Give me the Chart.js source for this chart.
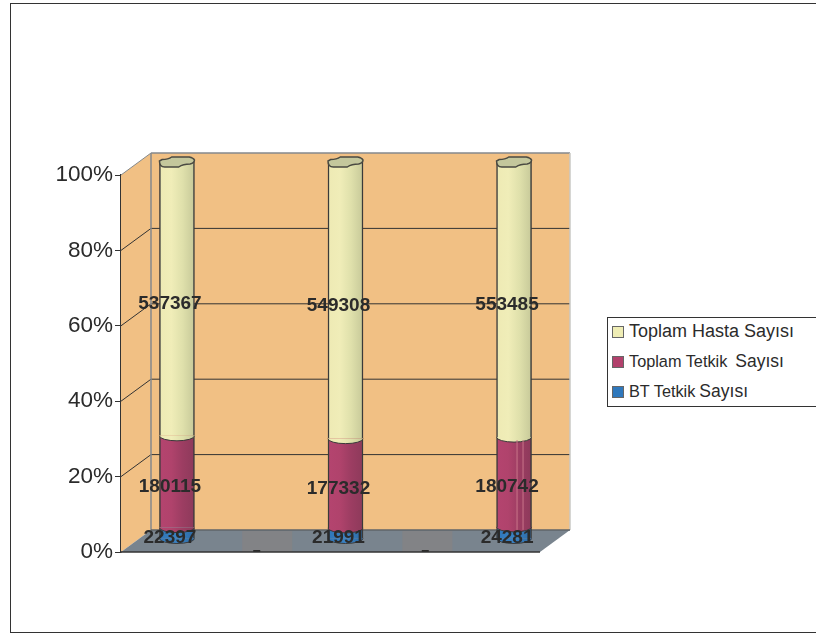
<!DOCTYPE html>
<html>
<head>
<meta charset="utf-8">
<style>
    html, body { margin: 0; padding: 0; background: #fff; }
    #wrap { position: relative; width: 816px; height: 633px; overflow: hidden; font-family: "Liberation Sans", sans-serif; }
    #frame { position: absolute; left: 10px; top: 3px; width: 806px; height: 628px; border: 1px solid #333; border-right: none; }
    #myChart { position: absolute; left: 0; top: 0; }
    #legend { position: absolute; left: 607px; top: 317px; width: 209px; height: 90px; box-sizing: border-box; border: 1px solid #333; border-right: none; background: #fff; color: #2b2b2b; }
    .legendRow { position: absolute; left: 4px; display: flex; align-items: center; white-space: nowrap; }
    .legendSwatch { width: 10px; height: 10px; border: 1px solid #666; margin-right: 5px; }
</style>
</head>
<body>
<div id="wrap">
    <div id="frame"></div>
    <canvas id="myChart" width="816" height="633"></canvas>
    <div id="legend"></div>
</div>
<script src="https://cdn.jsdelivr.net/npm/chart.js@4"></script>
<script>
const columnPositions = [0, 1, 2]
const btTetkik = [22397, 21991, 24281]
const toplamTetkik = [180115, 177332, 180742]
const toplamHasta = [537367, 549308, 553485]
const percentTicks = [0, 20, 40, 60, 80, 100]
const seriesNames = ['BT Tetkik Sayısı', 'Toplam Tetkik Sayısı', 'Toplam Hasta Sayısı']
const floorPatches = [0.5, 1.45]
const floorDashes = [0.5, 1.5]

// 3D box depth, and how far the columns sit inside it
const DEPTH_X = 30
const DEPTH_Y = -22
const COLUMN_X = 15
const COLUMN_Y = -13
const CAP_RY = 5

const share = (series, i) => {
    const total = btTetkik[i] + toplamTetkik[i] + toplamHasta[i]
    return series[i] / total * 100
}

const makeDataset = (name, series, shades, swatch) => ({
    label: name,
    swatch: swatch,
    values: series,
    data: columnPositions.map((x, i) => ({ x: x, y: share(series, i) })),
    barThickness: 35,
    borderColor: '#3a3a3a',
    borderWidth: { left: 1.5, right: 1.5, top: 0, bottom: 0 },
    borderSkipped: false,
    backgroundColor: (context) => {
        if (!context.raw) return shades[0]
        const chart = context.chart
        const center = chart.scales.x.getPixelForValue(context.raw.x)
        if (!Number.isFinite(center)) return shades[0]
        const gradient = chart.ctx.createLinearGradient(center - 17, 0, center + 17, 0)
        shades.forEach((shade, n) => gradient.addColorStop(n / (shades.length - 1), shade))
        return gradient
    },
})

// walls and floor behind the columns
const drawBox = (chart) => {
    const { ctx, chartArea, scales } = chart
    const { left, right, top, bottom } = chartArea
    const poly = (points, fill) => {
        ctx.beginPath()
        points.forEach((p, n) => n ? ctx.lineTo(p[0], p[1]) : ctx.moveTo(p[0], p[1]))
        ctx.closePath()
        ctx.fillStyle = fill
        ctx.fill()
    }
    const line = (x1, y1, x2, y2, color, width) => {
        ctx.beginPath()
        ctx.moveTo(x1, y1)
        ctx.lineTo(x2, y2)
        ctx.strokeStyle = color
        ctx.lineWidth = width
        ctx.stroke()
    }
    ctx.save()
    poly([[left + DEPTH_X, top + DEPTH_Y], [right + DEPTH_X, top + DEPTH_Y], [right + DEPTH_X, bottom + DEPTH_Y], [left + DEPTH_X, bottom + DEPTH_Y]], '#f1c084')
    poly([[left, top], [left + DEPTH_X, top + DEPTH_Y], [left + DEPTH_X, bottom + DEPTH_Y], [left, bottom]], '#f1c084')
    poly([[left, bottom], [left + DEPTH_X, bottom + DEPTH_Y], [right + DEPTH_X, bottom + DEPTH_Y], [right, bottom]], '#79848e')

    // slightly warmer floor patches between the columns, and small dashes on the front edge
    floorPatches.forEach(gap => {
        const x = scales.x.getPixelForValue(gap) + COLUMN_X
        ctx.fillStyle = '#828386'
        ctx.fillRect(x - 19, bottom + DEPTH_Y + 1, 50, -DEPTH_Y - 1)
    })
    floorDashes.forEach(gap => {
        const x = scales.x.getPixelForValue(gap) + COLUMN_X
        ctx.fillStyle = '#2b2b2b'
        ctx.fillRect(x - 8, bottom - 2, 7, 2)
    })

    percentTicks.slice(1, -1).forEach(tick => {
        const y = scales.y.getPixelForValue(tick)
        line(left, y, left + DEPTH_X, y + DEPTH_Y, '#333', 1)
        line(left + DEPTH_X, y + DEPTH_Y, right + DEPTH_X, y + DEPTH_Y, '#333', 1)
    })
    line(left, top, left + DEPTH_X, top + DEPTH_Y, '#85898c', 1)
    line(left + DEPTH_X, top + DEPTH_Y, right + DEPTH_X, top + DEPTH_Y, '#85898c', 1.5)
    line(left + DEPTH_X, top + DEPTH_Y, left + DEPTH_X, bottom + DEPTH_Y, '#85898c', 1.5)
    line(right + DEPTH_X, top + DEPTH_Y, right + DEPTH_X, bottom + DEPTH_Y, '#c9c9c4', 1.5)
    line(left + DEPTH_X, bottom + DEPTH_Y, right + DEPTH_X, bottom + DEPTH_Y, '#5f6469', 1.5)
    line(left, bottom, right, bottom, '#333', 1.5)
    ctx.restore()
}

// the lid is a little uneven: flat front edge, raised back, notch on the left
const traceLid = (ctx, x, y, w) => {
    const r = w / 2
    ctx.beginPath()
    ctx.moveTo(x - r, y - 1)
    ctx.quadraticCurveTo(x - r, y + 5, x - r * 0.7, y + 5)
    ctx.lineTo(x + r * 0.1, y + 5)
    ctx.quadraticCurveTo(x + r * 0.35, y + 2, x + r * 0.75, y + 2)
    ctx.quadraticCurveTo(x + r, y + 1, x + r, y - 2)
    ctx.quadraticCurveTo(x + r * 0.95, y - 4, x + r * 0.7, y - 5)
    ctx.lineTo(x - r * 0.3, y - 5)
    ctx.quadraticCurveTo(x - r * 0.5, y - 2.5, x - r * 0.85, y - 2.5)
    ctx.closePath()
}

// rounded bottoms of each segment and the lid on top
const drawCaps = (chart) => {
    const { ctx } = chart
    const lastIndex = chart.data.datasets.length - 1
    chart.data.datasets.forEach((dataset, d) => {
        chart.getDatasetMeta(d).data.forEach(bar => {
            const { x, y, base, width } = bar.getProps(['x', 'y', 'base', 'width'], true)
            ctx.beginPath()
            ctx.ellipse(x, base, width / 2, CAP_RY, 0, 0, Math.PI)
            ctx.closePath()
            ctx.fillStyle = bar.options.backgroundColor
            ctx.fill()
            ctx.beginPath()
            ctx.ellipse(x, base, width / 2, CAP_RY, 0, 0, Math.PI)
            ctx.strokeStyle = '#3a3a3a'
            ctx.lineWidth = 1
            ctx.stroke()
            if (d === lastIndex) {
                traceLid(ctx, x, y, width)
                ctx.fillStyle = '#c4c79c'
                ctx.fill()
                ctx.strokeStyle = '#4a4a42'
                ctx.lineWidth = 1.5
                ctx.stroke()
            }
        })
    })
    // two pale seams on the last column's middle segment
    const seamBar = chart.getDatasetMeta(1).data[2]
    const seam = seamBar.getProps(['x', 'y', 'base'], true)
    ctx.strokeStyle = '#c9758a'
    ctx.lineWidth = 1
    ;[3, 9].forEach(offset => {
        ctx.beginPath()
        ctx.moveTo(seam.x + offset, seam.y + 3)
        ctx.lineTo(seam.x + offset, seam.base + 3)
        ctx.stroke()
    })
}

const drawValues = (chart) => {
    const { ctx } = chart
    ctx.save()
    ctx.font = 'bold 19px "Liberation Sans"'
    ctx.fillStyle = '#2b2b2b'
    ctx.textAlign = 'center'
    ctx.textBaseline = 'middle'
    chart.data.datasets.forEach((dataset, d) => {
        chart.getDatasetMeta(d).data.forEach((bar, i) => {
            const { x, y, base } = bar.getProps(['x', 'y', 'base'], true)
            ctx.fillText(dataset.values[i], x + 8, (y + base) / 2 - 8)
        })
    })
    ctx.restore()
}

const boxPlugin = {
    id: 'box3d',
    beforeDatasetsDraw: (chart) => {
        drawBox(chart)
        chart.ctx.save()
        chart.ctx.translate(COLUMN_X, COLUMN_Y)
    },
    afterDatasetsDraw: (chart) => {
        drawCaps(chart)
        chart.ctx.restore()
        drawValues(chart)
    },
}

const ctx = document.getElementById('myChart')
const chart = new Chart(ctx, {
    type: 'bar',
    data: {
        datasets: [
            makeDataset(seriesNames[0], btTetkik, ['#2f76b8', '#3a82c4', '#2c6aa6'], '#2f78bc'),
            makeDataset(seriesNames[1], toplamTetkik, ['#b4446f', '#b0436c', '#9c3d62', '#8e3a5b'], '#b2416c'),
            makeDataset(seriesNames[2], toplamHasta, ['#eeeab4', '#f0edb8', '#dfe0ab', '#c8ca9a'], '#efedb5'),
        ],
    },
    options: {
        responsive: false,
        animation: false,
        layout: { padding: { left: 51, right: 276, top: 175, bottom: 81 } },
        plugins: { legend: { display: false }, tooltip: { enabled: false } },
        scales: {
            x: { type: 'linear', stacked: true, display: false, offset: false, min: -0.243, max: 2.243 },
            y: {
                stacked: true,
                min: 0,
                max: 100,
                afterFit: (scale) => { scale.width = 70 },
                afterBuildTicks: (scale) => { scale.ticks = percentTicks.map(value => ({ value })) },
                ticks: {
                    padding: 2,
                    color: '#2b2b2b',
                    font: { family: '"Liberation Sans"', size: 22.5 },
                    callback: (value) => value + '%',
                },
                grid: { drawOnChartArea: false, tickLength: 6, color: '#333', lineWidth: 1 },
                border: { color: '#333', width: 1.5 },
            },
        },
    },
    plugins: [boxPlugin],
})

// legend lists the series top-down; each row has its own type sizes for the last word
const legendRows = [
    { size: 18, lastSize: 18, gap: 5 },
    { size: 16.3, lastSize: 17.5, gap: 8 },
    { size: 16.3, lastSize: 17.5, gap: 4 },
]
const legend = document.getElementById('legend')
chart.data.datasets.slice().reverse().forEach((dataset, n) => {
    const words = dataset.label.split(' ')
    const last = words.pop()
    const row = document.createElement('div')
    row.className = 'legendRow'
    row.style.top = (3 + n * 30) + 'px'
    const swatch = document.createElement('span')
    swatch.className = 'legendSwatch'
    swatch.style.background = dataset.swatch
    const first = document.createElement('span')
    first.textContent = words.join(' ')
    first.style.fontSize = legendRows[n].size + 'px'
    const end = document.createElement('span')
    end.textContent = last
    end.style.fontSize = legendRows[n].lastSize + 'px'
    end.style.marginLeft = legendRows[n].gap + 'px'
    row.append(swatch, first, end)
    legend.append(row)
})
</script>
</body>
</html>
